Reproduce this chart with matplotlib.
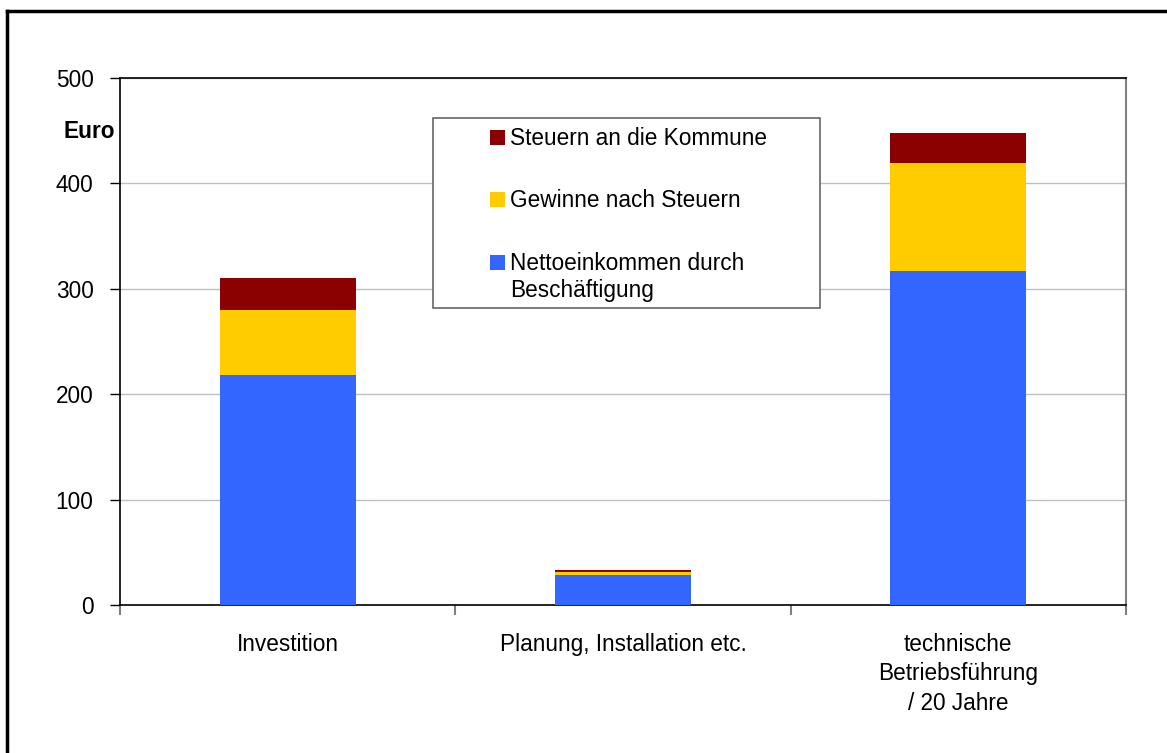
import numpy as np
import matplotlib
matplotlib.use("Agg")
import matplotlib.pyplot as plt
from matplotlib.patches import Rectangle
from matplotlib.lines import Line2D

plt.rcParams['font.family'] = ['Liberation Sans', 'DejaVu Sans']

categories = ["Investition", "Planung, Installation etc.",
              "technische\nBetriebsführung\n/ 20 Jahre"]
netto = [218, 28.5, 317]
gewinne = [62, 3, 102]
steuern = [30, 2, 29]
series_labels = ["Steuern an die Kommune", "Gewinne nach Steuern",
                 "Nettoeinkommen durch\nBeschäftigung"]
colors = {"netto": "#3366FF", "gewinne": "#FFCC00", "steuern": "#8B0000"}

W, H = 1167, 753
fig = plt.figure(figsize=(W / 100, H / 100), dpi=100)


def fx(x):
    return x / W


def fy(y):
    return 1 - y / H


ax = fig.add_axes([fx(120), fy(605), fx(1126) - fx(120), fy(78) - fy(605)])

x = np.arange(len(categories))
bottom2 = np.array(netto) + np.array(gewinne)
ax.bar(x, netto, width=0.405, color=colors["netto"], zorder=3)
ax.bar(x, gewinne, width=0.405, bottom=netto, color=colors["gewinne"], zorder=3)
ax.bar(x, steuern, width=0.405, bottom=bottom2, color=colors["steuern"], zorder=3)

ax.set_xlim(-0.5, 2.5)
ax.set_ylim(0, 500)
ax.set_yticks(np.arange(0, 501, 100))
ax.yaxis.grid(True, color="#c0c0c0", linewidth=1, zorder=0)

# x ticks at category boundaries, labels in the middle
ax.set_xticks([-0.5, 0.5, 1.5, 2.5])
ax.set_xticklabels([])
ax.set_xticks(x, minor=True)
ax.set_xticklabels(categories, minor=True, fontsize=16.3, linespacing=1.36)
ax.tick_params(axis="x", which="minor", length=0, pad=20)
ax.tick_params(axis="x", which="major", length=7, color="#808080", width=1.5)
ax.tick_params(axis="y", length=7, width=1, pad=12, labelsize=16.3)

for s in ["left", "top", "bottom"]:
    ax.spines[s].set_color("black")
    ax.spines[s].set_linewidth(1.2)
ax.spines["right"].set_color("#808080")
ax.spines["right"].set_linewidth(1.5)

ax.text(-0.005, 449, "Euro", transform=ax.get_yaxis_transform(),
        ha="right", va="center", fontsize=16.3, fontweight="bold")

# legend box drawn by hand
fig.add_artist(Rectangle((fx(433), fy(308)), fx(820) - fx(433), fy(118) - fy(308),
                         transform=fig.transFigure, facecolor="white",
                         edgecolor="#666666", linewidth=1.2, zorder=5))
leg_colors = [colors["steuern"], colors["gewinne"], colors["netto"]]
leg_y = [137, 199, 262]
for lab, c, yy in zip(series_labels, leg_colors, leg_y):
    fig.add_artist(Rectangle((fx(490), fy(yy + 7.5)), fx(15), 15 / H,
                             transform=fig.transFigure, facecolor=c,
                             edgecolor="none", zorder=6))
    fig.text(fx(510), fy(yy - 10), lab, ha="left", va="top", fontsize=16.3,
             linespacing=1.2, zorder=6)

# outer frame (top and left only)
fig.add_artist(Line2D([fx(7), fx(7)], [0, fy(11)], color="black", linewidth=2.5,
                      transform=fig.transFigure))
fig.add_artist(Line2D([fx(7), 1], [fy(11), fy(11)], color="black", linewidth=2.5,
                      transform=fig.transFigure))

fig.savefig("out.png", dpi=100, facecolor="white")
